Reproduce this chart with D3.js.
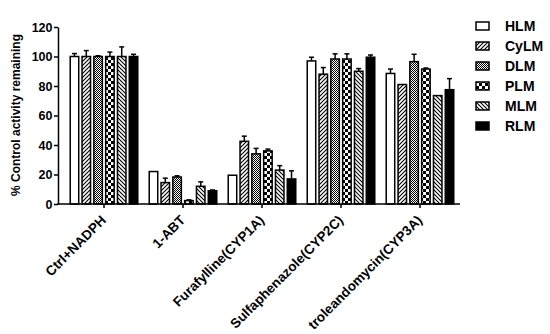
<!DOCTYPE html>
<html>
<head>
<meta charset="utf-8">
<script src="https://cdn.jsdelivr.net/npm/d3@7"></script>
<style>
  body { margin: 0; background: #fff; }
  svg { display: block; font-family: "Liberation Sans", Arial, sans-serif; }
</style>
</head>
<body>
<svg width="550" height="334"></svg>
<script>
const width = 550, height = 334;
const svg = d3.select("svg").attr("width", width).attr("height", height);

// Data
const categories = ["Ctrl+NADPH", "1-ABT", "Furafylline(CYP1A)", "Sulfaphenazole(CYP2C)", "troleandomycin(CYP3A)"];
const series = ["HLM", "CyLM", "DLM", "PLM", "MLM", "RLM"];
const means = {
    HLM:  [100, 22, 19.5, 97, 88.5],
    CyLM: [100, 14.5, 42.5, 88, 81],
    DLM:  [100, 18.3, 34, 98.3, 96.5],
    PLM:  [100, 2.3, 36, 98.3, 91.5],
    MLM:  [100, 12, 23, 90, 73.5],
    RLM:  [100, 9, 17, 99.5, 77.5]
};
const errors = {
    HLM:  [2, 0, 0, 2.5, 3],
    CyLM: [4, 3, 3.5, 4.5, 0],
    DLM:  [0.5, 0.8, 3.7, 3.5, 5],
    PLM:  [3, 0.5, 1.2, 3.5, 0.7],
    MLM:  [6.5, 3, 3, 1.8, 0],
    RLM:  [1.5, 0.5, 5.5, 1.5, 7.5]
};
const yTicks = [0, 20, 40, 60, 80, 100, 120];

// Patterns
const defs = svg.append("defs");
defs.append("pattern").attr("id", "p-CyLM").attr("patternUnits", "userSpaceOnUse")
    .attr("width", 4).attr("height", 4)
    .append("path").attr("d", "M-1,1 L1,-1 M0,4 L4,0 M3,5 L5,3")
    .attr("stroke", "#000").attr("stroke-width", 1.1);
defs.append("pattern").attr("id", "p-MLM").attr("patternUnits", "userSpaceOnUse")
    .attr("width", 4).attr("height", 4)
    .append("path").attr("d", "M-1,3 L1,5 M0,0 L4,4 M3,-1 L5,1")
    .attr("stroke", "#000").attr("stroke-width", 1.1);
const pd = defs.append("pattern").attr("id", "p-DLM").attr("patternUnits", "userSpaceOnUse")
    .attr("width", 2).attr("height", 2);
pd.append("rect").attr("width", 2).attr("height", 2).attr("fill", "#fff");
pd.append("rect").attr("width", 1).attr("height", 1).attr("fill", "#000");
pd.append("rect").attr("x", 1).attr("y", 1).attr("width", 1).attr("height", 1).attr("fill", "#000");
const pp = defs.append("pattern").attr("id", "p-PLM").attr("patternUnits", "userSpaceOnUse")
    .attr("width", 6).attr("height", 6);
pp.append("rect").attr("width", 6).attr("height", 6).attr("fill", "#fff");
pp.append("rect").attr("width", 3).attr("height", 3).attr("fill", "#000");
pp.append("rect").attr("x", 3).attr("y", 3).attr("width", 3).attr("height", 3).attr("fill", "#000");

const fills = { HLM: "#fff", CyLM: "url(#p-CyLM)", DLM: "url(#p-DLM)", PLM: "url(#p-PLM)", MLM: "url(#p-MLM)", RLM: "#000" };

// Scales
const x = d3.scaleBand().domain(categories).range([64.5, 459.5])
    .paddingInner(0.145).paddingOuter(0.0725);
const xs = d3.scaleBand().domain(series).range([0, x.bandwidth()]).paddingInner(0.28);
const y = d3.scaleLinear().domain([0, 120]).range([204, 27]);

// Bars
const rows = [];
series.forEach(s => categories.forEach((c, i) => rows.push({ s, c, v: means[s][i], e: errors[s][i] })));

const g = svg.append("g");
// error bars (only upward)
g.selectAll("line.err").data(rows.filter(d => d.e > 0)).enter().append("line")
    .attr("x1", d => x(d.c) + xs(d.s) + xs.bandwidth() / 2)
    .attr("x2", d => x(d.c) + xs(d.s) + xs.bandwidth() / 2)
    .attr("y1", d => y(d.v)).attr("y2", d => y(d.v + d.e))
    .attr("stroke", "#000").attr("stroke-width", 1.5);
g.selectAll("line.cap").data(rows.filter(d => d.e > 0)).enter().append("line")
    .attr("x1", d => x(d.c) + xs(d.s) + xs.bandwidth() / 2 - 2.5)
    .attr("x2", d => x(d.c) + xs(d.s) + xs.bandwidth() / 2 + 2.5)
    .attr("y1", d => y(d.v + d.e)).attr("y2", d => y(d.v + d.e))
    .attr("stroke", "#000").attr("stroke-width", 1.5);
g.selectAll("rect.bar").data(rows).enter().append("rect")
    .attr("x", d => x(d.c) + xs(d.s))
    .attr("y", d => y(d.v))
    .attr("width", xs.bandwidth())
    .attr("height", d => y(0) - y(d.v))
    .attr("fill", d => fills[d.s])
    .attr("stroke", "#000").attr("stroke-width", 1.5);

// Y axis
const yAxis = svg.append("g").attr("transform", "translate(58,0)")
    .call(d3.axisLeft(y).tickValues(yTicks).tickSize(4).tickSizeOuter(0));
yAxis.select(".domain").attr("stroke-width", 1.5);
yAxis.selectAll(".tick line").attr("stroke-width", 1.5);
yAxis.selectAll(".tick text").attr("font-size", 12.5).attr("font-weight", "bold")
    .attr("font-family", "Liberation Sans, Arial, sans-serif").attr("x", -5.5);

// X axis
const xAxis = svg.append("g").attr("transform", "translate(0,204)");
xAxis.append("line").attr("x1", 57.25).attr("x2", 460).attr("stroke", "#000").attr("stroke-width", 1.5);
xAxis.selectAll("line.tick").data(categories).enter().append("line")
    .attr("x1", d => x(d) + x.bandwidth() / 2).attr("x2", d => x(d) + x.bandwidth() / 2)
    .attr("y1", 0).attr("y2", 4).attr("stroke", "#000").attr("stroke-width", 1.5);
xAxis.selectAll("text").data(categories).enter().append("text")
    .attr("transform", d => `translate(${x(d) + x.bandwidth() / 2 + 3},17) rotate(-45)`)
    .attr("text-anchor", "end")
    .attr("font-size", 13.5).attr("font-weight", "bold")
    .text(d => d);

// Y title
svg.append("text")
    .attr("transform", "translate(20,115) rotate(-90)")
    .attr("text-anchor", "middle")
    .attr("font-size", 12).attr("font-weight", "bold")
    .text("% Control activity remaining");

// Legend
const leg = svg.append("g").selectAll("g").data(series).enter().append("g")
    .attr("transform", (d, i) => `translate(476,${26 + i * 20})`);
leg.append("rect").attr("x", 0).attr("y", -4).attr("width", 13).attr("height", 8)
    .attr("fill", d => fills[d]).attr("stroke", "#000").attr("stroke-width", 1.5);
leg.append("text").attr("x", 29).attr("dy", "0.35em")
    .attr("font-size", 14).attr("font-weight", "bold").text(d => d);
</script>
</body>
</html>
